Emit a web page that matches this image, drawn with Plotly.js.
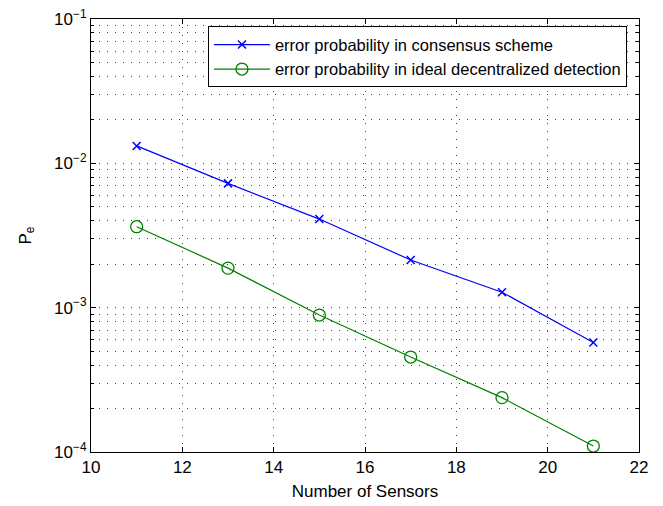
<!DOCTYPE html>
<html>
<head>
<meta charset="utf-8">
<script src="https://cdn.plot.ly/plotly-3.0.1.min.js"></script>
<style>
  html, body { margin: 0; padding: 0; background: #fff; }
  #chart { width: 663px; height: 506px; }
</style>
</head>
<body>
<div id="chart"></div>
<script>
// Number of sensors in the network
const sensors = [11, 13, 15, 17, 19, 21];
// Error probability with the consensus scheme
const peConsensus = [0.0132, 0.00726, 0.00411, 0.00214, 0.00128, 0.000574];
// Error probability with ideal decentralized detection
const peIdeal = [0.00364, 0.00188, 0.000889, 0.000455, 0.000238, 0.000110];

const seriesNames = [
  'error probability in consensus scheme',
  'error probability in ideal decentralized detection'
];
const xTicks = [10, 12, 14, 16, 18, 20, 22];
const yDecades = [1e-4, 1e-3, 1e-2, 1e-1];
const yDecadeLabels = ['10<sup>\u22124</sup>', '10<sup>\u22123</sup>', '10<sup>\u22122</sup>', '10<sup>\u22121</sup>'];

// minor log positions 2..9 within each decade
const yMinor = [];
[1e-4, 1e-3, 1e-2].forEach(d => { for (let k = 2; k <= 9; k++) yMinor.push(k * d); });

const fam = 'Liberation Sans, Arial, sans-serif';
const font = { family: fam, size: 17, color: '#000' };
const dotGrid = '1px,7px';

const traces = [
  {
    x: sensors, y: peConsensus, name: seriesNames[0],
    type: 'scatter', mode: 'lines+markers',
    line: { color: 'rgb(0,0,255)', width: 1.2 },
    marker: { symbol: 'x-thin-open', size: 8, color: 'rgb(0,0,255)', line: { color: 'rgb(0,0,255)', width: 1.5 } }
  },
  {
    x: sensors, y: peIdeal, name: seriesNames[1],
    type: 'scatter', mode: 'lines+markers',
    line: { color: 'rgb(0,128,0)', width: 1.2 },
    marker: { symbol: 'circle-open', size: 12, color: 'rgb(0,128,0)', line: { color: 'rgb(0,128,0)', width: 1.3 } }
  }
];

const layout = {
  width: 663, height: 506,
  margin: { l: 91, r: 24, t: 19, b: 54 },
  paper_bgcolor: '#fff', plot_bgcolor: '#fff',
  font: font,
  showlegend: true,
  legend: {
    x: 0.978, y: 0.983, xanchor: 'right', yanchor: 'top',
    bgcolor: '#fff', bordercolor: '#000', borderwidth: 1,
    font: { family: fam, size: 16.5, color: '#000' },
    tracegroupgap: 0, itemwidth: 56
  },
  xaxis: {
    range: [10, 22], tickvals: xTicks, ticktext: xTicks.map(String),
    ticks: 'inside', ticklen: 5, tickcolor: '#000', tickwidth: 1,
    showline: true, linecolor: '#000', linewidth: 1, mirror: 'allticks',
    showgrid: true, gridcolor: '#444', griddash: dotGrid, gridwidth: 1,
    zeroline: false,
    tickfont: { family: fam, size: 17, color: '#000' },
    title: { text: 'Number of Sensors', font: { family: fam, size: 17, color: '#000' }, standoff: 8 }
  },
  yaxis: {
    type: 'log', range: [-4, -1], tickvals: yDecades, ticktext: yDecadeLabels,
    ticks: 'inside', ticklen: 5, tickcolor: '#000', tickwidth: 1,
    showline: true, linecolor: '#000', linewidth: 1, mirror: 'allticks',
    showgrid: true, gridcolor: '#444', griddash: dotGrid, gridwidth: 1,
    zeroline: false,
    tickfont: { family: fam, size: 17, color: '#000' },
    minor: {
      tickvals: yMinor, ticks: 'inside', ticklen: 3, tickcolor: '#000',
      showgrid: true, gridcolor: '#444', griddash: dotGrid, gridwidth: 1
    },
    title: { text: 'P<sub>e</sub>', font: { family: fam, size: 17, color: '#000' }, standoff: 18 }
  }
};

Plotly.newPlot('chart', traces, layout, { displayModeBar: false, staticPlot: true });
</script>
</body>
</html>
